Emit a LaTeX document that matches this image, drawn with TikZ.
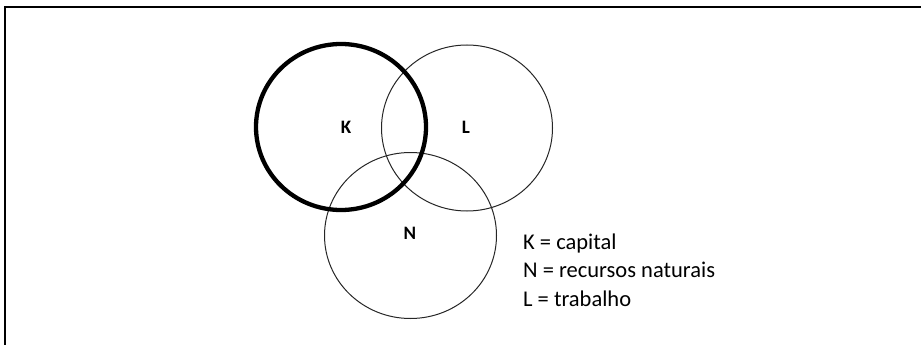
\documentclass[tikz,border=0pt]{standalone}
\usepackage{fontspec}
\setmainfont{Carlito}
\begin{document}
\begin{tikzpicture}[x=1pt,y=-1pt,
  setlabel/.style={font=\fontsize{19}{22}\selectfont\bfseries, inner sep=0pt},
  legend/.style={font=\fontsize{22.5}{27}\selectfont, inner sep=0pt, anchor=base west},
  thinset/.style={draw=black!85, line width=1pt},
  thickset/.style={draw=black, line width=4.3pt}]
\useasboundingbox (0,0) rectangle (921,345);
% frame (top and left only)
\draw[line width=1.5pt] (5,345) -- (5,7) -- (921,7);
% sets
\draw[thinset] (467,128) ellipse [x radius=85.5, y radius=83];
\draw[thinset] (410.5,235.5) ellipse [x radius=86, y radius=83];
\draw[thickset] (341,127) ellipse [x radius=85, y radius=83];
% labels
\node[setlabel] (k) at (346,127) {K};
\node[setlabel] (l) at (466,127) {L};
\node[setlabel] (n) at (410,233) {N};
% legend
\node[legend] (lk) at (523,249) {K = capital};
\node[legend] (ln) at (523,277.5) {N = recursos naturais};
\node[legend] (ll) at (523,306) {L = trabalho};
\end{tikzpicture}
\end{document}
